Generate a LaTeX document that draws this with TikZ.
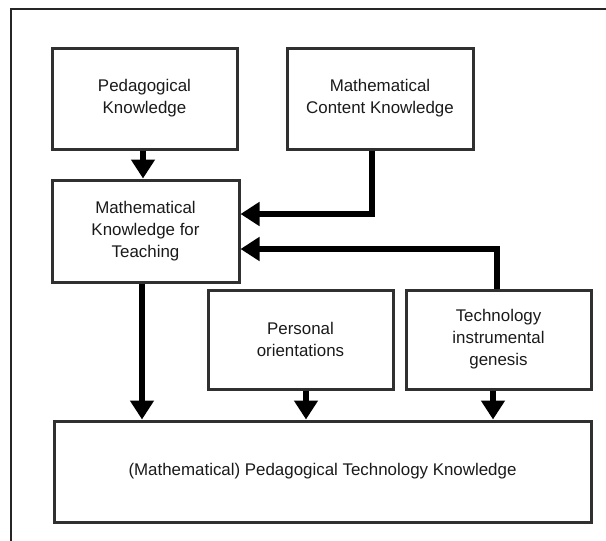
\documentclass[tikz,border=0pt]{standalone}
\usepackage{fontspec}
\setmainfont{Liberation Sans}
\usetikzlibrary{arrows.meta,calc}
\definecolor{boxline}{HTML}{303030}
\definecolor{txt}{HTML}{1A1A1A}
\tikzset{
  kbox/.style={draw=boxline, line width=3pt, rectangle, align=center, text=txt,
    font=\fontsize{16.9}{22}\selectfont, inner sep=0pt},
  arr/.style={draw=black, line width=5.5pt, -{Triangle[width=23pt,length=19pt]}},
  frame/.style={draw=black!85, line width=2pt}
}
\begin{document}
\begin{tikzpicture}[x=1pt,y=-1pt]
\useasboundingbox (0,0) rectangle (606,541);
\coordinate (fa) at (11,541);
\coordinate (fb) at (11,9);
\coordinate (fc) at (606,9);
\draw[frame] (fa) -- (fb) -- (fc);

\node[kbox, minimum width=185pt, minimum height=101pt] (ped) at (144.5,98.5) {Pedagogical\\Knowledge};
\node[kbox, minimum width=186pt, minimum height=101pt] (mck) at (380,98.5) {Mathematical\\Content Knowledge};
\node[kbox, minimum width=187pt, minimum height=102pt] (mkt) at (145.5,231) {Mathematical\\Knowledge for\\Teaching};
\node[kbox, minimum width=185pt, minimum height=99pt] (po) at (300.5,339.5) {Personal\\orientations};
\node[kbox, minimum width=185pt, minimum height=99pt] (tig) at (498.5,339.5) {Technology\\instrumental\\genesis};
\node[kbox, minimum width=537pt, minimum height=101pt] (ptk) at (322.5,471.5) {(Mathematical) Pedagogical Technology Knowledge};

\draw[arr] ([xshift=-1.5pt]ped.south) -- ([xshift=-1.5pt]ped.south |- mkt.north);
\draw[arr] ([xshift=-8pt]mck.south) |- ([yshift=17pt]mkt.east);
\draw[arr] ([xshift=-1.5pt]tig.north) |- ([yshift=-18pt]mkt.east);
\draw[arr] ([xshift=-3.5pt]mkt.south) -- ([xshift=-3.5pt]mkt.south |- ptk.north);
\draw[arr] ([xshift=5.5pt]po.south) -- ([xshift=5.5pt]po.south |- ptk.north);
\draw[arr] ([xshift=-5.5pt]tig.south) -- ([xshift=-5.5pt]tig.south |- ptk.north);
\end{tikzpicture}
\end{document}
